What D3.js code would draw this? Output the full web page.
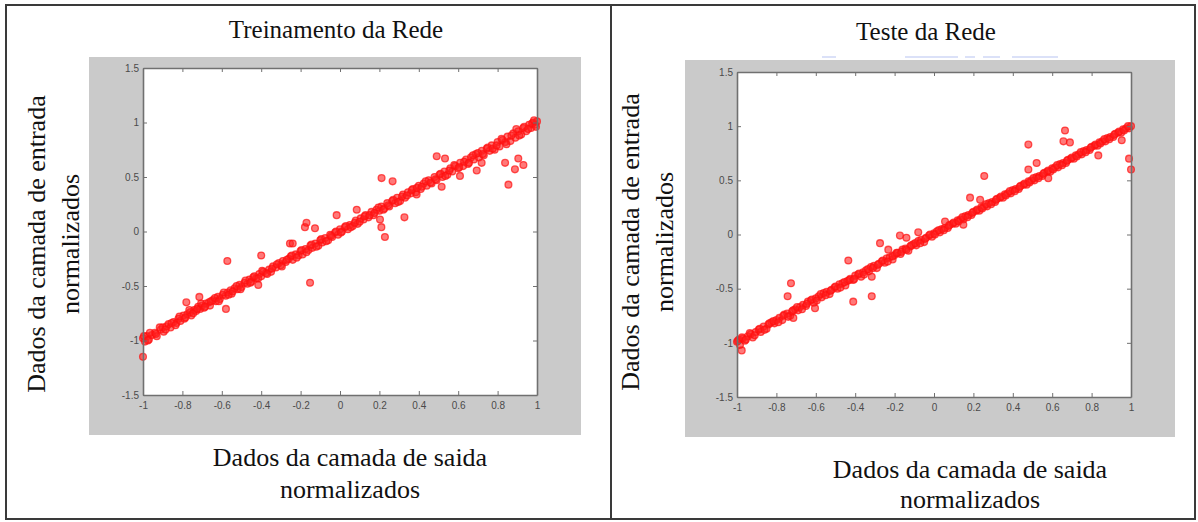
<!DOCTYPE html>
<html>
<head>
<meta charset="utf-8">
<script src="https://cdn.jsdelivr.net/npm/d3@7"></script>
<style>
  html, body { margin: 0; padding: 0; background: #ffffff; }
  svg { display: block; }
  .tick text { font-family: "Liberation Sans", Arial, sans-serif; font-size: 10px; fill: #4a4a4a; }
  .serif { font-family: "Liberation Serif", "Times New Roman", serif; fill: #111; }
</style>
</head>
<body>
<svg id="chart" width="1198" height="522"></svg>
<script>
// ---- data -------------------------------------------------------------
const titles = ["Treinamento da Rede", "Teste da Rede"];
const yLabelLines = ["Dados da camada de entrada", "normalizados"];
const xLabelLines = ["Dados da camada de saida", "normalizados"];
const xTickValues = [-1, -0.8, -0.6, -0.4, -0.2, 0, 0.2, 0.4, 0.6, 0.8, 1];
const yTickValues = [-1.5, -1, -0.5, 0, 0.5, 1, 1.5];

// training set: network output (x) vs. target (y), normalized
const trainPoints = [
  [-1.00,-0.98],[-0.99,-1.01],[-0.98,-0.96],[-0.97,-0.99],[-0.955,-0.95],[-0.94,-0.93],[-0.93,-0.96],
  [-0.91,-0.90],[-0.90,-0.88],[-0.895,-0.92],[-0.88,-0.87],[-0.87,-0.85],[-0.86,-0.88],[-0.845,-0.83],
  [-0.83,-0.84],[-0.82,-0.80],[-0.81,-0.82],[-0.795,-0.77],[-0.79,-0.80],[-0.775,-0.76],[-0.76,-0.74],
  [-0.755,-0.77],[-0.74,-0.72],[-0.73,-0.73],[-0.72,-0.69],[-0.71,-0.71],[-0.70,-0.68],[-0.69,-0.70],
  [-0.68,-0.66],[-0.665,-0.65],[-0.66,-0.68],[-0.645,-0.63],[-0.63,-0.64],[-0.62,-0.60],[-0.61,-0.62],
  [-0.595,-0.58],[-0.58,-0.59],[-0.57,-0.56],[-0.555,-0.54],[-0.55,-0.57],[-0.535,-0.52],[-0.52,-0.53],
  [-0.51,-0.49],[-0.50,-0.51],[-0.485,-0.47],[-0.47,-0.48],[-0.46,-0.44],[-0.45,-0.46],[-0.44,-0.42],
  [-0.425,-0.43],[-0.41,-0.39],[-0.40,-0.41],[-0.39,-0.37],[-0.375,-0.38],[-0.36,-0.35],[-0.35,-0.37],
  [-0.34,-0.32],[-0.325,-0.33],[-0.31,-0.29],[-0.30,-0.31],[-0.29,-0.27],[-0.275,-0.28],[-0.26,-0.25],
  [-0.25,-0.23],[-0.24,-0.26],[-0.225,-0.21],[-0.21,-0.22],[-0.20,-0.18],[-0.19,-0.21],[-0.175,-0.16],
  [-0.16,-0.17],[-0.15,-0.13],[-0.14,-0.15],[-0.125,-0.11],[-0.11,-0.13],[-0.10,-0.08],[-0.09,-0.10],
  [-0.075,-0.06],[-0.06,-0.08],[-0.05,-0.03],[-0.04,-0.05],[-0.025,-0.01],[-0.01,-0.03],[0.00,0.02],
  [0.01,0.00],[0.025,0.04],[0.04,0.02],[0.05,0.06],[0.065,0.05],[0.08,0.10],[0.09,0.07],[0.105,0.12],
  [0.12,0.11],[0.13,0.15],[0.145,0.13],[0.16,0.18],[0.17,0.15],[0.185,0.20],[0.20,0.19],[0.21,0.23],
  [0.225,0.21],[0.24,0.26],[0.25,0.23],[0.265,0.28],[0.28,0.26],[0.29,0.31],[0.305,0.28],[0.32,0.34],
  [0.33,0.31],[0.345,0.36],[0.36,0.35],[0.37,0.39],[0.385,0.36],[0.40,0.42],[0.41,0.39],[0.425,0.44],
  [0.44,0.42],[0.45,0.47],[0.465,0.44],[0.48,0.50],[0.49,0.47],[0.505,0.52],[0.52,0.50],[0.53,0.55],
  [0.545,0.52],[0.56,0.58],[0.57,0.55],[0.585,0.60],[0.60,0.58],[0.61,0.63],[0.625,0.60],[0.64,0.66],
  [0.65,0.62],[0.665,0.68],[0.68,0.66],[0.69,0.71],[0.705,0.68],[0.72,0.74],[0.73,0.70],[0.745,0.76],
  [0.76,0.74],[0.77,0.79],[0.785,0.75],[0.80,0.82],[0.81,0.78],[0.825,0.84],[0.84,0.82],[0.85,0.87],
  [0.865,0.83],[0.88,0.90],[0.89,0.86],[0.905,0.92],[0.92,0.89],[0.93,0.95],[0.945,0.92],[0.96,0.98],
  [0.97,0.95],[0.98,1.00],[0.99,0.98],[1.00,1.01],
  [-0.995,-0.96],[-0.975,-1.00],[-0.965,-0.93],[-0.935,-0.94],[-0.915,-0.88],[-0.885,-0.90],[-0.855,-0.84],
  [-0.835,-0.86],[-0.815,-0.78],[-0.785,-0.79],[-0.765,-0.72],[-0.745,-0.75],[-0.725,-0.71],[-0.705,-0.66],
  [-0.685,-0.69],[-0.655,-0.64],[-0.635,-0.61],[-0.615,-0.64],[-0.59,-0.56],[-0.565,-0.58],[-0.545,-0.55],
  [-0.525,-0.50],[-0.505,-0.53],[-0.48,-0.45],[-0.455,-0.47],[-0.435,-0.41],[-0.415,-0.43],[-0.395,-0.36],
  [-0.37,-0.39],[-0.345,-0.34],[-0.32,-0.30],[-0.295,-0.32],[-0.27,-0.26],[-0.245,-0.22],[-0.22,-0.24],
  [-0.195,-0.17],[-0.17,-0.19],[-0.145,-0.12],[-0.12,-0.14],[-0.095,-0.07],[-0.07,-0.09],[-0.045,-0.04],
  [-0.02,0.00],[0.005,-0.01],[0.03,0.05],[0.055,0.04],[0.075,0.08],[0.10,0.09],[0.125,0.14],[0.15,0.15],
  [0.175,0.17],[0.195,0.22],[0.22,0.20],[0.245,0.24],[0.27,0.29],[0.295,0.27],[0.315,0.32],[0.34,0.33],
  [0.365,0.38],[0.39,0.40],[0.415,0.41],[0.435,0.46],[0.46,0.45],[0.485,0.48],[0.51,0.53],[0.535,0.51],
  [0.555,0.56],[0.58,0.61],[0.605,0.59],[0.63,0.64],[0.655,0.63],[0.675,0.70],[0.70,0.72],[0.725,0.71],
  [0.75,0.77],[0.775,0.76],[0.795,0.79],[0.82,0.85],[0.845,0.80],[0.87,0.88],[0.895,0.94],[0.91,0.88],
  [0.935,0.96],[0.955,0.94],[0.975,0.99],[0.995,0.96],[0.985,1.02],
  [-0.78,-0.65],[-0.714,-0.60],[-0.572,-0.27],[-0.579,-0.71],[-0.40,-0.22],[-0.415,-0.49],
  [-0.254,-0.11],[-0.24,-0.11],[-0.152,-0.47],[-0.178,0.04],[-0.17,0.08],[-0.127,0.03],
  [-0.017,0.15],[0.085,0.20],[0.203,0.11],[0.21,0.04],[0.228,-0.05],[0.211,0.49],[0.267,0.46],
  [0.327,0.13],[0.389,0.34],[0.491,0.69],[0.533,0.67],[0.516,0.41],[0.609,0.51],[0.694,0.56],
  [0.719,0.63],[0.838,0.63],[0.888,0.57],[0.931,0.61],[0.905,0.67],[0.855,0.43],[-1.00,-1.15]
];

// test set: network output (x) vs. target (y), normalized
const testPoints = [
  [-1.00,-0.99],[-0.99,-0.97],[-0.985,-1.02],[-0.97,-0.96],[-0.96,-0.98],[-0.945,-0.94],[-0.93,-0.92],
  [-0.92,-0.95],[-0.905,-0.90],[-0.89,-0.88],[-0.88,-0.90],[-0.865,-0.85],[-0.85,-0.87],[-0.84,-0.83],
  [-0.825,-0.81],[-0.81,-0.82],[-0.80,-0.79],[-0.785,-0.77],[-0.77,-0.79],[-0.76,-0.74],[-0.745,-0.73],
  [-0.73,-0.75],[-0.72,-0.71],[-0.705,-0.69],[-0.69,-0.70],[-0.68,-0.67],[-0.665,-0.65],[-0.65,-0.66],
  [-0.64,-0.62],[-0.625,-0.61],[-0.61,-0.63],[-0.60,-0.59],[-0.585,-0.57],[-0.57,-0.58],[-0.56,-0.54],
  [-0.545,-0.53],[-0.53,-0.55],[-0.52,-0.51],[-0.505,-0.49],[-0.49,-0.50],[-0.48,-0.46],[-0.465,-0.45],
  [-0.45,-0.47],[-0.44,-0.43],[-0.425,-0.41],[-0.41,-0.42],[-0.40,-0.38],[-0.385,-0.37],[-0.37,-0.39],
  [-0.36,-0.35],[-0.345,-0.33],[-0.33,-0.34],[-0.32,-0.30],[-0.305,-0.29],[-0.29,-0.31],[-0.28,-0.27],
  [-0.265,-0.25],[-0.25,-0.26],[-0.24,-0.22],[-0.225,-0.21],[-0.21,-0.23],[-0.20,-0.19],[-0.185,-0.17],
  [-0.17,-0.18],[-0.16,-0.14],[-0.145,-0.13],[-0.13,-0.15],[-0.12,-0.11],[-0.105,-0.09],[-0.09,-0.10],
  [-0.08,-0.06],[-0.065,-0.05],[-0.05,-0.07],[-0.04,-0.03],[-0.025,-0.01],[-0.01,-0.02],[0.00,0.01],
  [0.015,0.03],[0.03,0.02],[0.04,0.05],[0.055,0.06],[0.07,0.06],[0.08,0.09],[0.095,0.10],[0.11,0.10],
  [0.12,0.13],[0.135,0.14],[0.15,0.14],[0.16,0.17],[0.175,0.18],[0.19,0.18],[0.20,0.21],[0.215,0.22],
  [0.23,0.22],[0.24,0.25],[0.255,0.26],[0.27,0.26],[0.28,0.29],[0.295,0.30],[0.31,0.30],[0.32,0.33],
  [0.335,0.34],[0.35,0.34],[0.36,0.37],[0.375,0.38],[0.39,0.38],[0.40,0.41],[0.415,0.42],[0.43,0.42],
  [0.44,0.45],[0.455,0.46],[0.47,0.46],[0.48,0.49],[0.495,0.50],[0.51,0.50],[0.52,0.53],[0.535,0.54],
  [0.55,0.54],[0.56,0.57],[0.575,0.58],[0.59,0.58],[0.60,0.61],[0.615,0.62],[0.63,0.62],[0.64,0.65],
  [0.655,0.66],[0.67,0.66],[0.68,0.69],[0.695,0.70],[0.71,0.70],[0.72,0.73],[0.735,0.74],[0.75,0.74],
  [0.76,0.77],[0.775,0.78],[0.79,0.78],[0.80,0.81],[0.815,0.82],[0.83,0.82],[0.84,0.85],[0.855,0.86],
  [0.87,0.86],[0.88,0.89],[0.895,0.90],[0.91,0.90],[0.92,0.93],[0.935,0.94],[0.95,0.94],[0.96,0.97],
  [0.975,0.98],[0.99,0.98],[1.00,1.00],
  [-0.995,-0.98],[-0.975,-0.95],[-0.955,-0.97],[-0.935,-0.91],[-0.91,-0.93],[-0.885,-0.87],[-0.86,-0.88],
  [-0.835,-0.82],[-0.815,-0.80],[-0.79,-0.81],[-0.765,-0.75],[-0.74,-0.76],[-0.715,-0.70],[-0.695,-0.67],
  [-0.67,-0.69],[-0.645,-0.64],[-0.62,-0.60],[-0.595,-0.61],[-0.575,-0.55],[-0.55,-0.56],[-0.525,-0.52],
  [-0.50,-0.48],[-0.475,-0.49],[-0.455,-0.44],[-0.43,-0.42],[-0.405,-0.41],[-0.38,-0.36],[-0.355,-0.37],
  [-0.335,-0.32],[-0.31,-0.31],[-0.285,-0.28],[-0.26,-0.24],[-0.235,-0.25],[-0.21,-0.20],[-0.19,-0.17],
  [-0.165,-0.16],[-0.14,-0.14],[-0.115,-0.10],[-0.095,-0.08],[-0.07,-0.08],[-0.045,-0.04],[-0.02,0.00],
  [0.005,0.00],[0.025,0.04],[0.05,0.04],[0.075,0.08],[0.10,0.11],[0.125,0.12],[0.145,0.16],[0.17,0.16],
  [0.195,0.20],[0.22,0.23],[0.245,0.24],[0.265,0.28],[0.29,0.28],[0.315,0.32],[0.34,0.35],[0.365,0.36],
  [0.385,0.40],[0.41,0.40],[0.435,0.44],[0.46,0.47],[0.485,0.48],[0.505,0.52],[0.53,0.52],[0.555,0.56],
  [0.58,0.59],[0.605,0.60],[0.625,0.64],[0.65,0.64],[0.675,0.68],[0.70,0.71],[0.725,0.72],[0.745,0.76],
  [0.77,0.76],[0.795,0.80],[0.82,0.83],[0.845,0.84],[0.865,0.88],[0.89,0.88],[0.915,0.92],[0.94,0.95],
  [0.965,0.96],[0.985,1.00],
  [-0.976,-1.07],[-0.726,-0.45],[-0.743,-0.57],[-0.714,-0.77],[-0.604,-0.68],[-0.435,-0.24],
  [-0.41,-0.62],[-0.316,-0.57],[-0.316,-0.39],[-0.274,-0.08],[-0.232,-0.14],[-0.173,-0.01],
  [-0.14,-0.03],[-0.08,0.02],[0.056,0.12],[0.149,0.09],[0.183,0.34],[0.234,0.32],[0.255,0.54],
  [0.479,0.83],[0.479,0.60],[0.521,0.66],[0.58,0.52],[0.657,0.86],[0.665,0.96],[0.69,0.85],
  [0.834,0.73],[0.953,0.87],[0.99,0.70],[1.00,0.60]
];

// ---- layout -----------------------------------------------------------
const svg = d3.select("#chart");

const panels = [
  { title: titles[0], points: trainPoints, bg: [89, 57, 581, 435], plot: [143, 68, 537, 395],
    titleX: 336, titleY: 38, yLab: [36, 70], yLabY: 244, xLabX: 350, xLabY: [466, 498] },
  { title: titles[1], points: testPoints, bg: [685, 60, 1175, 437], plot: [737, 72, 1131, 397],
    titleX: 926, titleY: 40, yLab: [630, 664], yLabY: 242, xLabX: 970, xLabY: [478, 508] }
];

// outer frame and divider
svg.append("rect").attr("x", 6).attr("y", 5).attr("width", 1189).attr("height", 514)
  .attr("fill", "none").attr("stroke", "#3a3a3a").attr("stroke-width", 2);
svg.append("line").attr("x1", 611).attr("x2", 611).attr("y1", 5).attr("y2", 519)
  .attr("stroke", "#3a3a3a").attr("stroke-width", 2);

panels.forEach(p => {
  const [bx0, by0, bx1, by1] = p.bg;
  const [px0, py0, px1, py1] = p.plot;
  const g = svg.append("g");

  // figure background
  g.append("rect").attr("x", bx0).attr("y", by0).attr("width", bx1 - bx0).attr("height", by1 - by0)
    .attr("fill", "#cacaca");
  g.append("rect").attr("x", px0).attr("y", py0).attr("width", px1 - px0).attr("height", py1 - py0)
    .attr("fill", "#ffffff");

  const x = d3.scaleLinear().domain([-1, 1]).range([px0, px1]);
  const y = d3.scaleLinear().domain([-1.5, 1.5]).range([py1, py0]);

  // scatter markers
  g.append("g").selectAll("circle").data(p.points).join("circle")
    .attr("cx", d => x(d[0])).attr("cy", d => y(d[1])).attr("r", 3.4)
    .attr("fill", "#ff2020").attr("fill-opacity", 0.6)
    .attr("stroke", "#ff1010").attr("stroke-width", 1.3).attr("stroke-opacity", 0.7);

  const fmt = d => String(d);
  const styleAxis = sel => {
    sel.selectAll(".domain").attr("stroke", "#707070").attr("stroke-width", 1.6);
    sel.selectAll(".tick line").attr("stroke", "#707070").attr("stroke-width", 1);
  };

  g.append("g").attr("transform", `translate(0,${py1})`)
    .call(d3.axisBottom(x).tickValues(xTickValues).tickFormat(fmt).tickSizeInner(-4).tickSizeOuter(0).tickPadding(7))
    .call(styleAxis);
  g.append("g").attr("transform", `translate(${px0},0)`)
    .call(d3.axisLeft(y).tickValues(yTickValues).tickFormat(fmt).tickSizeInner(-4).tickSizeOuter(0).tickPadding(4))
    .call(styleAxis);
  g.append("g").attr("transform", `translate(0,${py0})`)
    .call(d3.axisTop(x).tickValues(xTickValues).tickFormat("").tickSizeInner(-4).tickSizeOuter(0))
    .call(styleAxis);
  g.append("g").attr("transform", `translate(${px1},0)`)
    .call(d3.axisRight(y).tickValues(yTickValues).tickFormat("").tickSizeInner(-4).tickSizeOuter(0))
    .call(styleAxis);
  g.selectAll(".domain").attr("fill", "none");

  // title
  g.append("text").attr("class", "serif").attr("x", p.titleX).attr("y", p.titleY)
    .attr("text-anchor", "middle").attr("font-size", 25).text(p.title);

  // y label (two rotated lines)
  yLabelLines.forEach((t, i) => {
    g.append("text").attr("class", "serif")
      .attr("transform", `translate(${p.yLab[i]},${p.yLabY}) rotate(-90)`)
      .attr("text-anchor", "middle").attr("dominant-baseline", "central")
      .attr("font-size", 26).text(t);
  });

  // x label (two lines)
  xLabelLines.forEach((t, i) => {
    g.append("text").attr("class", "serif").attr("x", p.xLabX).attr("y", p.xLabY[i])
      .attr("text-anchor", "middle").attr("font-size", 26).text(t);
  });
});

// faint blue underline marks beneath the second title
const underline = [[822, 836], [905, 958], [965, 975], [983, 1000], [1012, 1058]];
svg.append("g").selectAll("line").data(underline).join("line")
  .attr("x1", d => d[0]).attr("x2", d => d[1]).attr("y1", 57).attr("y2", 57)
  .attr("stroke", "#9fb0ee").attr("stroke-opacity", 0.5).attr("stroke-width", 1.5);
</script>
</body>
</html>
